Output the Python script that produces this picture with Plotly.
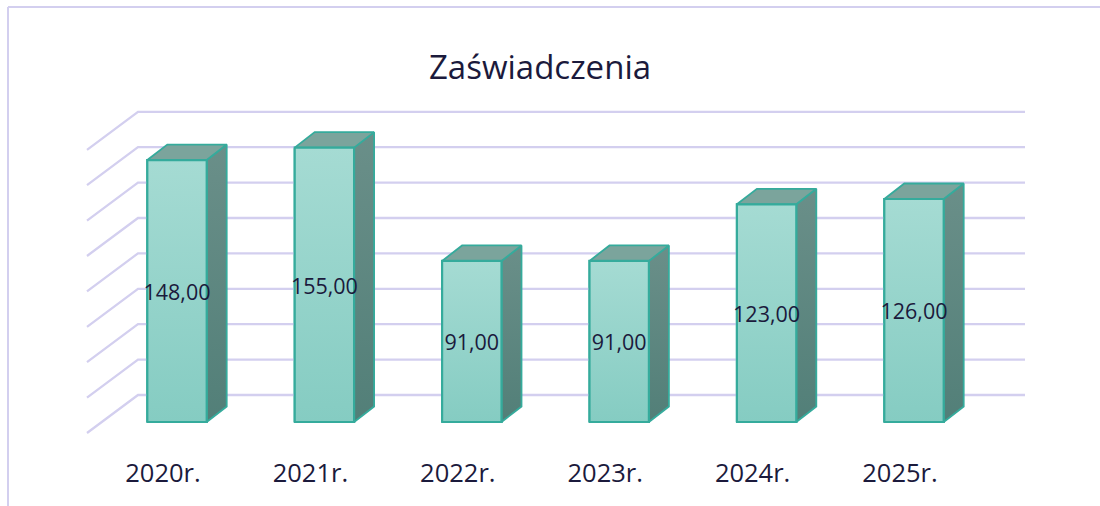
import plotly.graph_objects as go

categories = ["2020r.", "2021r.", "2022r.", "2023r.", "2024r.", "2025r."]
values = [148, 155, 91, 91, 123, 126]
value_labels = ["148,00", "155,00", "91,00", "91,00", "123,00", "126,00"]
grid_values = [0, 20, 40, 60, 80, 100, 120, 140, 160]
title_text = "Zaświadczenia"

W, H = 1100, 506
M_BOTTOM = 51
PX_X0, PX_DX = 177.0, 147.4
PX_Y0, PX_DY = 422.0, 1.77

FONT = "Open Sans"
TEXT = "#1b1a3c"
GRID = "#d3cfef"
EDGE = "#35ab9c"

xrange_ = [-PX_X0 / PX_DX, (W - PX_X0) / PX_DX]
yrange_ = [(PX_Y0 - (H - M_BOTTOM)) / PX_DY, PX_Y0 / PX_DY]

half = 29.7 / PX_DX
dx = 20 / PX_DX
dy = 15.5 / PX_DY

gx_front = -90 / PX_DX
gx_back = -39 / PX_DX
gx_right = 848 / PX_DX
g_back = 27 / PX_DY
g_front = -11 / PX_DY
label_drop = 3.5 / PX_DY

fig = go.Figure()

# Front faces as real bars (the gradient goes on top)
fig.add_trace(go.Bar(
    x=list(range(len(values))), y=values, width=2 * half,
    marker=dict(color="#94d3ca", line=dict(color=EDGE, width=2)),
    hoverinfo="skip", showlegend=False,
))

# Grid: side wall and back wall
gxs, gys = [], []
for g in grid_values:
    gxs += [gx_front, gx_back, gx_right, None]
    gys += [g + g_front, g + g_back, g + g_back, None]
fig.add_trace(go.Scatter(x=gxs, y=gys, mode="lines",
                         line=dict(color=GRID, width=2.3),
                         hoverinfo="skip", showlegend=False))

for i, v in enumerate(values):
    l, r = i - half, i + half
    # side face
    fig.add_trace(go.Scatter(
        x=[r, r + dx, r + dx, r, r], y=[0, dy, v + dy, v, 0],
        mode="lines", line=dict(color=EDGE, width=1.8), fill="toself",
        fillgradient=dict(type="vertical", colorscale=[[0, "#527f78"], [1, "#6a8f89"]]),
        hoverinfo="skip", showlegend=False))
    # top face
    fig.add_trace(go.Scatter(
        x=[l, l + dx, r + dx, r, l], y=[v, v + dy, v + dy, v, v],
        mode="lines", line=dict(color=EDGE, width=1.8), fill="toself",
        fillcolor="#7ba49c", hoverinfo="skip", showlegend=False))
    # front face gradient
    fig.add_trace(go.Scatter(
        x=[l, r, r, l, l], y=[0, 0, v, v, 0],
        mode="lines", line=dict(color=EDGE, width=2.2), fill="toself",
        fillgradient=dict(type="vertical", colorscale=[[0, "#85ccc2"], [1, "#a5dbd3"]]),
        hoverinfo="skip", showlegend=False))

# Data labels
fig.add_trace(go.Scatter(
    x=list(range(len(values))), y=[v / 2 - label_drop for v in values],
    mode="text", text=value_labels, textposition="middle center",
    textfont=dict(family=FONT, size=21.5, color=TEXT),
    hoverinfo="skip", showlegend=False))

fig.update_layout(
    width=W, height=H,
    margin=dict(l=0, r=0, t=0, b=M_BOTTOM, pad=0),
    paper_bgcolor="white", plot_bgcolor="white",
    showlegend=False,
    title=dict(text=title_text, x=540 / W, xref="paper", xanchor="center",
               y=1 - 67 / H, yref="container", yanchor="middle",
               font=dict(family=FONT, size=33, color=TEXT)),
    xaxis=dict(range=xrange_, showgrid=False, zeroline=False, showline=False, ticks="",
               tickmode="array", tickvals=[i - 14 / PX_DX for i in range(len(categories))],
               ticktext=categories, tickangle=0,
               tickfont=dict(family=FONT, size=25.5, color=TEXT)),
    yaxis=dict(range=yrange_, showgrid=False, zeroline=False, showline=False,
               showticklabels=False, ticks=""),
    shapes=[
        dict(type="line", xref="paper", yref="paper", x0=8 / W, x1=1,
             y0=1 - 7 / (H - M_BOTTOM), y1=1 - 7 / (H - M_BOTTOM),
             line=dict(color=GRID, width=2)),
        dict(type="line", xref="paper", yref="paper", x0=8 / W, x1=8 / W,
             y0=1 - 7 / (H - M_BOTTOM), y1=-M_BOTTOM / (H - M_BOTTOM),
             line=dict(color=GRID, width=2)),
    ],
)

fig.write_html("out.html", config={"displayModeBar": False},
               post_script="document.body.style.margin='0';")
